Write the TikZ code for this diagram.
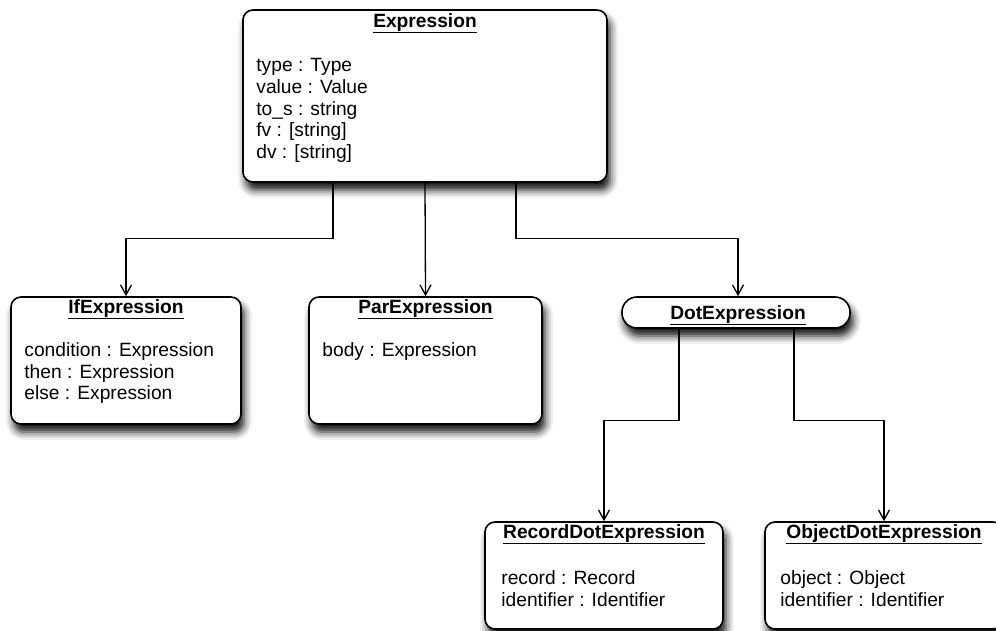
\documentclass[tikz,border=0pt]{standalone}
\usepackage{fontspec}
\setmainfont{Liberation Sans}
\usetikzlibrary{arrows.meta,shadows.blur,calc}

\tikzset{
  umlbox/.style={draw, line width=1.6pt, rounded corners=10pt, fill=white,
    inner sep=0pt,
    blur shadow={shadow xshift=3pt, shadow yshift=-8pt,
      shadow blur radius=8pt, shadow opacity=95}},
  stadium/.style={umlbox, rounded corners=15pt},
  title/.style={anchor=base, inner sep=0pt, font=\fontsize{19.2}{22}\selectfont\bfseries},
  attrs/.style={anchor=north west, inner sep=0pt, align=left,
    font=\fontsize{19.2}{21.7}\selectfont},
  conn/.style={line width=1.3pt, -{Straight Barb[length=10pt,width=11pt,line width=1.3pt]}}
}

\newcommand{\ttl}[1]{\underline{#1}}

\begin{document}
\begin{tikzpicture}[x=1pt,y=-1pt]
\useasboundingbox (0,0) rectangle (996,631);

% class boxes
\node[umlbox, minimum width=364pt, minimum height=172pt] (expr) at (425,96) {};
\node[umlbox, minimum width=230pt, minimum height=127pt] (ifx) at (126,360.5) {};
\node[umlbox, minimum width=233pt, minimum height=127pt] (par) at (425.5,360.5) {};
\node[stadium, minimum width=228pt, minimum height=31pt] (dot) at (736,312.5) {};
\node[umlbox, minimum width=238pt, minimum height=107pt] (rec) at (604,575.5) {};
\node[umlbox, minimum width=238pt, minimum height=107pt] (obj) at (884,575.5) {};

% titles
\node[title] (exprT) at ([yshift=-18pt]expr.north) {\ttl{Expression}};
\node[title] (ifxT) at ([yshift=-17pt]ifx.north) {\ttl{IfExpression}};
\node[title] (parT) at ([yshift=-17pt]par.north) {\ttl{ParExpression}};
\node[title] (dotT) at ([xshift=2pt,yshift=-6.5pt]dot.center) {\ttl{DotExpression}};
\node[title] (recT) at ([yshift=-17pt]rec.north) {\ttl{RecordDotExpression}};
\node[title] (objT) at ([yshift=-17pt]obj.north) {\ttl{ObjectDotExpression}};

% attributes (first baseline about 14pt below each node top)
\node[attrs] (exprA) at ([xshift=14pt,yshift=-49pt]expr.north west)
  {type : Type\\value : Value\\to\_s : string\\fv : [string]\\dv : [string]};
\node[attrs] (ifxA) at ([xshift=14pt,yshift=-46pt]ifx.north west)
  {condition : Expression\\then : Expression\\else : Expression};
\node[attrs] (parA) at ([xshift=14pt,yshift=-46pt]par.north west)
  {body : Expression};
\node[attrs] (recA) at ([xshift=17pt,yshift=-49pt]rec.north west)
  {record : Record\\identifier : Identifier};
\node[attrs] (objA) at ([xshift=16pt,yshift=-49pt]obj.north west)
  {object : Object\\identifier : Identifier};

% inheritance connectors
\draw[conn] ([xshift=-92pt]expr.south) -- ++(0,56) -| (ifx.north);
\draw[conn] (expr.south) -- (par.north);
\draw[conn] ([xshift=91pt]expr.south) -- ++(0,56) -| ([xshift=2pt]dot.north);
\draw[conn] ([xshift=-57pt]dot.south) -- ++(0,92) -| (rec.north);
\draw[conn] ([xshift=58pt]dot.south) -- ++(0,92) -| (obj.north);
\end{tikzpicture}
\end{document}
